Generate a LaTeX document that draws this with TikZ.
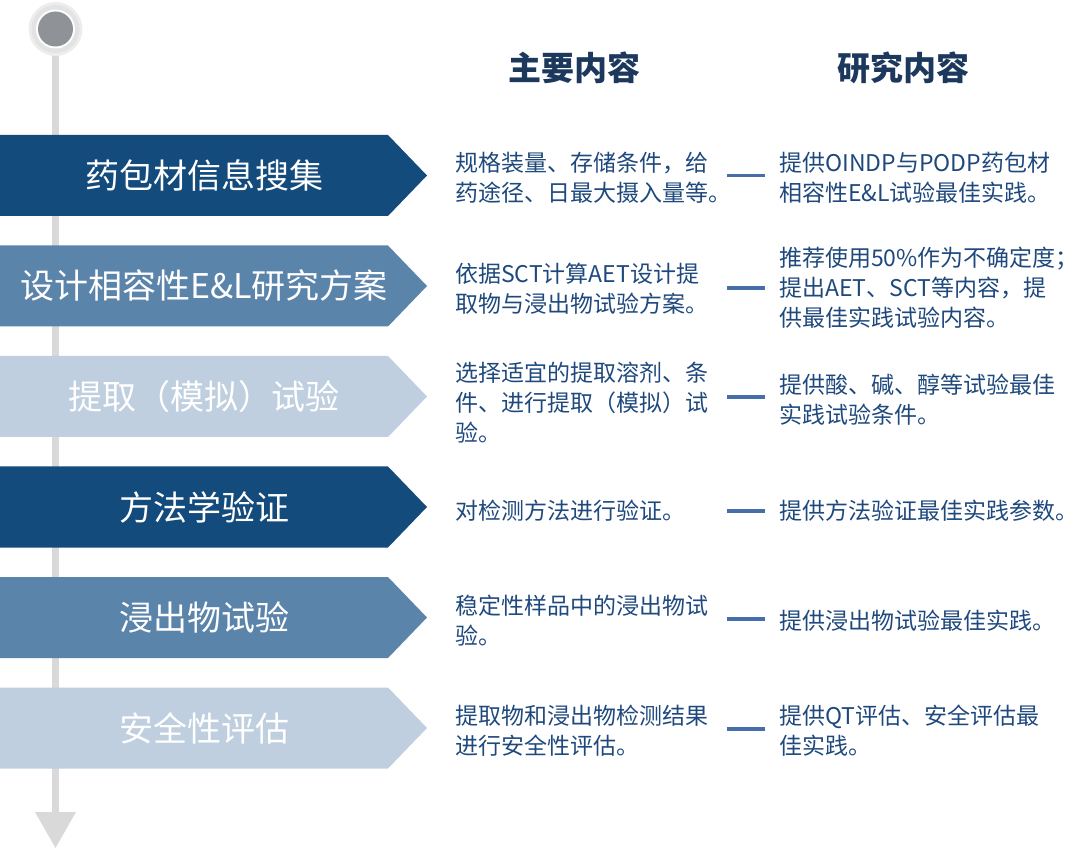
\documentclass[tikz,border=0pt]{standalone}
\usepackage{fontspec}
\setmainfont{Noto Sans CJK SC}
\definecolor{cdark}{RGB}{20,75,125}
\definecolor{cmid}{RGB}{91,132,170}
\definecolor{clight}{RGB}{191,207,223}
\definecolor{ctext}{RGB}{31,73,125}
\definecolor{chead}{RGB}{28,56,92}
\definecolor{cdash}{RGB}{70,110,170}
\definecolor{cline}{RGB}{217,217,217}
\definecolor{cknob}{RGB}{143,147,152}
\begin{document}
\begin{tikzpicture}[x=1pt,y=-1pt,
  steplabel/.style={text=white,inner sep=0pt,font=\fontsize{34}{40}\selectfont},
  midtext/.style={text=ctext,inner sep=0pt,anchor=west,align=left,font=\fontsize{23}{30}\selectfont},
  headtext/.style={text=chead,inner sep=0pt,font=\fontsize{33}{40}\selectfont\bfseries},
  dashline/.style={draw=cdash,line width=3.5pt}]
\useasboundingbox (0,0) rectangle (1080,850);
% timeline
\coordinate (ltop) at (55.5,45);
\coordinate (lbot) at (55.5,815);
\draw[cline,line width=7pt] (ltop) -- (lbot);
\fill[cline] (35,812) -- (76,812) -- (55.5,848) -- cycle;
\fill[black!7] (55.5,29) circle (27);
\fill[black!11] (55.5,29) circle (24);
\fill[white] (55.5,29) circle (19.5);
\fill[cknob] (55.5,29) circle (17.5);
% headers
\node[headtext] (h1) at (574,68) {主要内容};
\node[headtext] (h2) at (903,68) {研究内容};
% pentagons
\foreach \yc/\col in {175.5/cdark,286/cmid,396.5/clight,507/cdark,617.5/cmid,728/clight}{
  \fill[\col] (0,\yc-40.5) -- (388,\yc-40.5) -- (427,\yc) -- (388,\yc+40.5) -- (0,\yc+40.5) -- cycle;
}
\node[steplabel] (s1) at (204,175.5) {药包材信息搜集};
\node[steplabel] (s2) at (204,286) {设计相容性E\&L研究方案};
\node[steplabel] (s3) at (204,396.5) {提取（模拟）试验};
\node[steplabel] (s4) at (204,507) {方法学验证};
\node[steplabel] (s5) at (204,617.5) {浸出物试验};
\node[steplabel] (s6) at (204,728) {安全性评估};
% middle texts
\node[midtext] (m1) at (455,177.5) {规格装量、存储条件，给\\药途径、日最大摄入量等。};
\node[midtext] (m2) at (455,289) {依据SCT计算AET设计提\\取物与浸出物试验方案。};
\node[midtext] (m3) at (455,403) {选择适宜的提取溶剂、条\\件、进行提取（模拟）试\\验。};
\node[midtext] (m4) at (455,511) {对检测方法进行验证。};
\node[midtext] (m5) at (455,621) {稳定性样品中的浸出物试\\验。};
\node[midtext] (m6) at (455,731) {提取物和浸出物检测结果\\进行安全性评估。};
% right texts
\node[midtext] (r1) at (779,177.5) {提供OINDP与PODP药包材\\相容性E\&L试验最佳实践。};
\node[midtext] (r2) at (779,288) {推荐使用50\%作为不确定度；\\提出AET、SCT等内容，提\\供最佳实践试验内容。};
\node[midtext] (r3) at (779,400) {提供酸、碱、醇等试验最佳\\实践试验条件。};
\node[midtext] (r4) at (779,511) {提供方法验证最佳实践参数。};
\node[midtext] (r5) at (779,621) {提供浸出物试验最佳实践。};
\node[midtext] (r6) at (779,731) {提供QT评估、安全评估最\\佳实践。};
% dashes
\foreach \i/\yd in {1/175.5,2/288,3/397,4/511,5/619,6/729}{
  \coordinate (da\i) at (727,\yd);
  \coordinate (db\i) at (765,\yd);
  \draw[dashline] (da\i) -- (db\i);
}
\end{tikzpicture}
\end{document}
